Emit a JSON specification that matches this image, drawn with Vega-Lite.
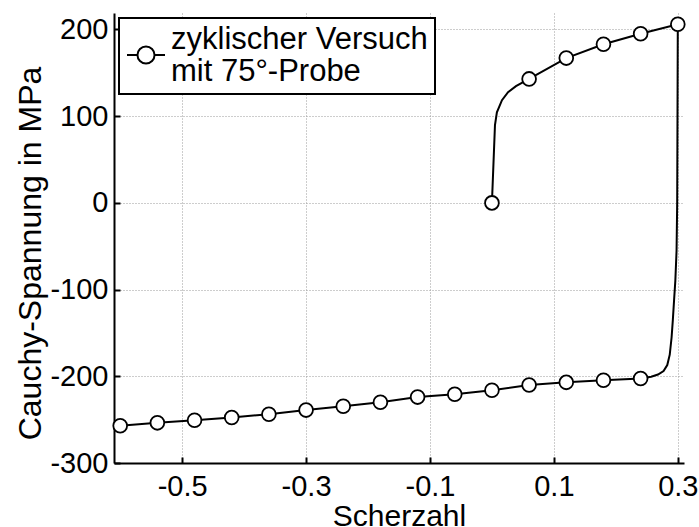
{
  "$schema": "https://vega.github.io/schema/vega-lite/v6.json",
  "width": 570,
  "height": 450,
  "autosize": {"type": "none"},
  "padding": {"left": 114, "top": 13, "right": 15, "bottom": 64},
  "background": "white",
  "config": {
    "view": {"stroke": null},
    "font": "Liberation Sans",
    "axis": {
      "domainColor": "black",
      "domainWidth": 2,
      "tickColor": "black",
      "tickWidth": 2,
      "tickSize": -6,
      "labelFont": "Liberation Sans",
      "labelFontSize": 29,
      "labelColor": "black",
      "titleFont": "Liberation Sans",
      "titleFontWeight": "normal",
      "titleColor": "black",
      "gridColor": "#9a9a9a",
      "gridDash": [1, 2],
      "gridWidth": 1,
      "gridOpacity": 1
    }
  },
  "data": {
    "values": [
      {"o": 1, "x": 0.0, "y": 0, "m": true},
      {"o": 2, "x": 0.0049, "y": 89.6, "m": false},
      {"o": 3, "x": 0.008, "y": 104.5, "m": false},
      {"o": 4, "x": 0.0162, "y": 118.5, "m": false},
      {"o": 5, "x": 0.026, "y": 127.7, "m": false},
      {"o": 6, "x": 0.0388, "y": 134.6, "m": false},
      {"o": 7, "x": 0.06, "y": 143, "m": true},
      {"o": 8, "x": 0.12, "y": 167, "m": true},
      {"o": 9, "x": 0.18, "y": 183, "m": true},
      {"o": 10, "x": 0.24, "y": 195, "m": true},
      {"o": 11, "x": 0.3, "y": 206, "m": true},
      {"o": 12, "x": 0.2995, "y": 100, "m": false},
      {"o": 13, "x": 0.299, "y": 0, "m": false},
      {"o": 14, "x": 0.298, "y": -55, "m": false},
      {"o": 15, "x": 0.296, "y": -90, "m": false},
      {"o": 16, "x": 0.294, "y": -112, "m": false},
      {"o": 17, "x": 0.292, "y": -135, "m": false},
      {"o": 18, "x": 0.29, "y": -155, "m": false},
      {"o": 19, "x": 0.287, "y": -175, "m": false},
      {"o": 20, "x": 0.283, "y": -187, "m": false},
      {"o": 21, "x": 0.277, "y": -194, "m": false},
      {"o": 22, "x": 0.268, "y": -198, "m": false},
      {"o": 23, "x": 0.257, "y": -200.5, "m": false},
      {"o": 24, "x": 0.24, "y": -202.5, "m": true},
      {"o": 25, "x": 0.18, "y": -204.5, "m": true},
      {"o": 26, "x": 0.12, "y": -207, "m": true},
      {"o": 27, "x": 0.06, "y": -210, "m": true},
      {"o": 28, "x": 0.0, "y": -216, "m": true},
      {"o": 29, "x": -0.06, "y": -220.7, "m": true},
      {"o": 30, "x": -0.12, "y": -224, "m": true},
      {"o": 31, "x": -0.18, "y": -230, "m": true},
      {"o": 32, "x": -0.24, "y": -234.5, "m": true},
      {"o": 33, "x": -0.3, "y": -239, "m": true},
      {"o": 34, "x": -0.36, "y": -243.7, "m": true},
      {"o": 35, "x": -0.42, "y": -247.5, "m": true},
      {"o": 36, "x": -0.48, "y": -250.6, "m": true},
      {"o": 37, "x": -0.54, "y": -253.7, "m": true},
      {"o": 38, "x": -0.6, "y": -257, "m": true}
    ]
  },
  "encoding": {
    "x": {
      "field": "x",
      "type": "quantitative",
      "scale": {"domain": [-0.61, 0.31], "nice": false, "zero": false},
      "axis": {
        "values": [-0.5, -0.3, -0.1, 0.1, 0.3],
        "labelExpr": "datum.value < 0 ? '-' + format(-datum.value, '.1f') : format(datum.value, '.1f')",
        "title": "Scherzahl",
        "titleFontSize": 30,
        "titleX": 285,
        "titleY": 62,
        "titleBaseline": "alphabetic",
        "titleAlign": "center",
        "labelPadding": 15,
        "labelFlush": false
      }
    },
    "y": {
      "field": "y",
      "type": "quantitative",
      "scale": {"domain": [-300, 219], "nice": false, "zero": false},
      "axis": {
        "values": [-300, -200, -100, 0, 100, 200],
        "labelExpr": "datum.value < 0 ? '-' + format(-datum.value, 'd') : format(datum.value, 'd')",
        "title": "Cauchy-Spannung in MPa",
        "titleFontSize": 32,
        "titleAngle": -90,
        "titleX": -84,
        "titleY": 240,
        "titleAlign": "center",
        "titleBaseline": "middle",
        "labelPadding": 12,
        "labelFlush": false
      }
    }
  },
  "layer": [
    {
      "mark": {"type": "line", "strokeWidth": 2, "clip": false},
      "encoding": {
        "order": {"field": "o", "type": "quantitative"},
        "color": {
          "field": "s",
          "type": "nominal",
          "scale": {"domain": ["zyklischer Versuch mit 75°-Probe"], "range": ["black"]},
          "legend": {
            "title": null,
            "orient": "top-left",
            "offset": 5,
            "padding": 7,
            "strokeColor": "black",
            "fillColor": "white",
            "cornerRadius": 0,
            "labelFont": "Liberation Sans",
            "labelFontSize": 31,
            "labelColor": "black",
            "labelLimit": 500,
            "labelOffset": 5,
            "labelExpr": "['zyklischer Versuch', 'mit 75°-Probe']",
            "symbolType": "M-1,0L-0.45,0M0.45,0L1,0M0.45,0A0.45,0.45 0 1,1 -0.45,0A0.45,0.45 0 1,1 0.45,0Z",
            "symbolSize": 1444,
            "symbolStrokeWidth": 2,
            "symbolFillColor": "white",
            "symbolStrokeColor": "black",
            "encode": {
              "legend": {"update": {"strokeWidth": {"value": 2}}},
              "symbols": {"update": {"fill": {"value": "white"}, "stroke": {"value": "black"}, "strokeWidth": {"value": 2}, "shape": {"value": "M-1,0L-0.45,0M0.45,0L1,0M0.45,0A0.45,0.45 0 1,1 -0.45,0A0.45,0.45 0 1,1 0.45,0Z"}, "size": {"value": 1444}, "y": {"value": 30}}},
              "labels": {"update": {"lineHeight": {"value": 32}, "baseline": {"value": "top"}, "y": {"value": 0}}}
            }
          }
        }
      },
      "transform": [{"calculate": "'zyklischer Versuch mit 75°-Probe'", "as": "s"}]
    },
    {
      "transform": [{"filter": "datum.m"}],
      "mark": {"type": "point", "shape": "circle", "filled": true, "fill": "white", "stroke": "black", "strokeWidth": 1.8, "size": 190, "opacity": 1, "clip": false}
    }
  ]
}
